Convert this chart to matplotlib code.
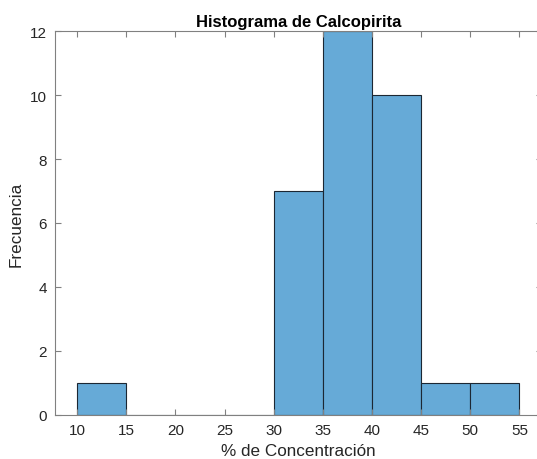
import matplotlib
matplotlib.use("Agg")
import matplotlib.pyplot as plt

# bin edges and counts
bin_edges = [10, 15, 20, 25, 30, 35, 40, 45, 50, 55]
counts = [1, 0, 0, 0, 7, 12, 10, 1, 1]
x_ticks = [10, 15, 20, 25, 30, 35, 40, 45, 50, 55]
y_ticks = [0, 2, 4, 6, 8, 10, 12]

plt.rcParams["font.family"] = ["Liberation Sans", "DejaVu Sans"]

fig = plt.figure(figsize=(5.37, 4.6), dpi=100)
# axes run a little past the right edge of the picture, as in the reference
ax = fig.add_axes([0.1024, 0.0963, 0.906, 0.8335])

widths = [b - a for a, b in zip(bin_edges[:-1], bin_edges[1:])]
ax.bar(bin_edges[:-1], counts, width=widths, align="edge",
       color=(102 / 255, 170 / 255, 215 / 255), edgecolor="#1c2733", linewidth=0.8)

ax.set_xlim(7.75, 57.25)
ax.set_ylim(0, 12)
ax.set_xticks(x_ticks)
ax.set_yticks(y_ticks)

axis_col = "#262626"
for s in ax.spines.values():
    s.set_color("#808080")
    s.set_linewidth(0.8)
ax.tick_params(direction="in", length=4, width=0.8, color="#808080",
               labelsize=11, labelcolor=axis_col, top=True, right=True, pad=6)

ax.set_xlabel("% de Concentración", fontsize=12.3, color=axis_col)
ax.set_ylabel("Frecuencia", fontsize=12.3, color=axis_col)
ax.set_title("Histograma de Calcopirita", fontsize=12, fontweight="bold", pad=4)

fig.savefig("out.png", dpi=100)
